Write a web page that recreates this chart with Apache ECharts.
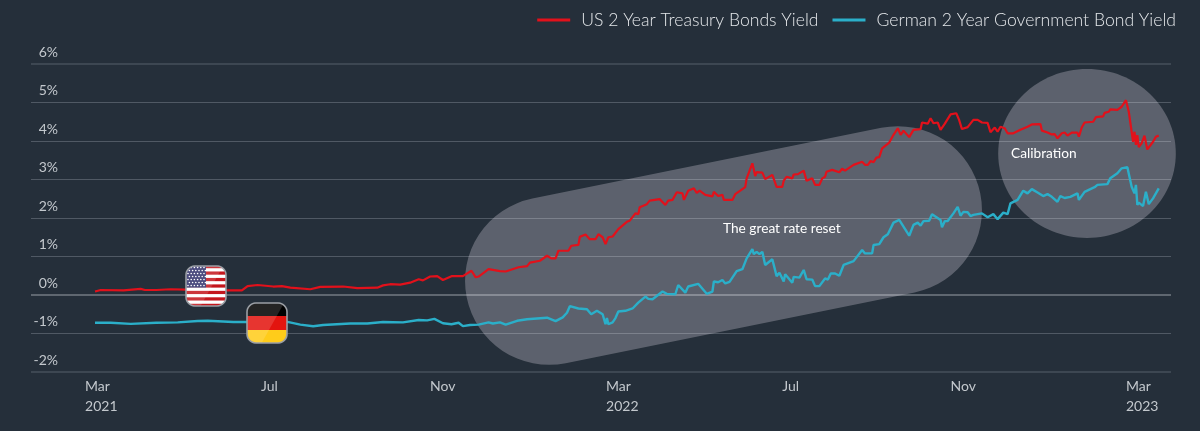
<!DOCTYPE html>
<html>
    <head>
        <meta charset="UTF-8">
        <script src="https://cdn.jsdelivr.net/npm/echarts@6/dist/echarts.min.js"></script>
        <style>
            html, body { margin: 0; padding: 0; background: #252f3a; }
            #main { width: 1200px; height: 431px; }
        </style>
    </head>
    <body>
        <div id="main"></div>
        <script type="text/javascript">
            // days counted from 1 Mar 2021, yields in percent
            const usDays = [0,4,20,32,35,43,53,63,74,84,93,103,107,114,125,131,137,151,158,174,184,198,202,207,214,221,227,230,235,240,244,250,255,258,264,267,269,276,284,288,297,303,305,312,317,320,323,325,332,334,339,340,344,347,351,353,356,358,360,363,367,373,375,379,381,382,387,389,396,400,402,405,408,412,413,416,420,422,424,428,433,434,437,440,441,447,449,456,457,461,463,464,468,470,475,478,482,483,485,489,490,493,497,499,503,505,508,510,512,513,517,522,524,526,532,538,540,542,544,546,548,550,552,557,560,563,565,567,571,574,579,580,584,586,588,591,593,596,600,604,606,608,612,616,619,622,626,628,631,633,635,638,640,644,649,654,657,663,664,668,671,673,675,678,680,682,685,689,690,692,694,700,702,707,708,711,712,717,720,723,725,727,728,729,730,731,732,734,736,738,739,742,744,746];
            const usYield = [0.09,0.13,0.12,0.16,0.13,0.13,0.15,0.14,0.14,0.13,0.12,0.12,0.23,0.26,0.22,0.23,0.19,0.15,0.21,0.22,0.18,0.19,0.25,0.28,0.27,0.32,0.41,0.38,0.48,0.49,0.39,0.49,0.49,0.49,0.63,0.46,0.48,0.67,0.62,0.61,0.72,0.75,0.84,0.89,1.02,0.95,0.95,1.15,1.15,1.28,1.30,1.51,1.57,1.45,1.45,1.58,1.50,1.32,1.50,1.52,1.71,1.90,1.93,2.12,2.10,2.28,2.36,2.45,2.49,2.34,2.45,2.47,2.67,2.64,2.47,2.71,2.77,2.65,2.71,2.60,2.56,2.68,2.57,2.60,2.47,2.47,2.62,2.80,3.03,3.42,3.09,3.19,3.18,3.01,3.12,2.81,2.81,2.97,3.07,3.03,3.13,3.14,3.23,2.97,3.03,2.86,2.86,3.03,3.07,3.20,3.25,3.19,3.28,3.23,3.38,3.46,3.38,3.38,3.48,3.45,3.57,3.58,3.81,3.96,4.16,4.33,4.16,4.27,4.10,4.29,4.31,4.48,4.45,4.59,4.46,4.48,4.29,4.45,4.69,4.72,4.55,4.31,4.36,4.55,4.55,4.48,4.47,4.23,4.35,4.24,4.37,4.33,4.20,4.20,4.29,4.37,4.43,4.44,4.27,4.22,4.17,4.18,4.07,4.20,4.22,4.14,4.22,4.22,4.11,4.35,4.48,4.50,4.62,4.64,4.73,4.76,4.82,4.81,4.89,5.06,4.76,4.24,3.98,4.24,3.90,4.15,3.84,3.94,4.14,3.78,3.75,3.98,4.11,4.14];
            const deDays = [0,11,25,43,58,72,79,97,106,121,135,144,153,160,179,191,202,216,227,233,238,244,250,255,258,263,269,276,279,284,288,296,303,317,323,328,331,333,339,345,348,352,356,358,359,360,363,365,367,372,377,381,386,388,391,398,401,407,409,414,416,423,429,433,434,437,440,442,445,450,454,457,461,462,464,466,468,470,475,478,480,483,484,489,490,494,497,499,503,505,508,512,514,516,519,522,525,532,538,540,545,546,550,553,556,560,564,571,574,577,579,581,585,587,593,594,596,598,602,605,607,609,612,614,616,622,626,630,633,637,640,642,647,651,654,657,661,665,668,671,675,677,680,684,689,690,694,701,703,710,712,717,720,724,727,729,730,731,732,735,737,739,742,746];
            const deYield = [-0.72,-0.72,-0.75,-0.72,-0.71,-0.675,-0.67,-0.70,-0.70,-0.72,-0.70,-0.77,-0.81,-0.78,-0.74,-0.74,-0.70,-0.71,-0.65,-0.66,-0.62,-0.735,-0.76,-0.72,-0.81,-0.78,-0.77,-0.71,-0.74,-0.71,-0.77,-0.67,-0.63,-0.59,-0.68,-0.58,-0.46,-0.29,-0.35,-0.37,-0.50,-0.41,-0.50,-0.76,-0.60,-0.76,-0.71,-0.60,-0.43,-0.41,-0.35,-0.20,-0.04,-0.10,-0.11,0.09,0.03,0.02,0.26,0.06,0.22,0.29,0.03,0.09,0.35,0.33,0.39,0.30,0.34,0.62,0.67,0.95,1.19,1.06,1.12,1.06,1.12,0.78,0.93,0.49,0.58,0.35,0.54,0.32,0.47,0.45,0.65,0.41,0.40,0.23,0.23,0.43,0.40,0.56,0.56,0.50,0.78,0.88,1.17,1.08,1.08,1.30,1.32,1.50,1.58,1.88,1.95,1.54,1.82,1.88,1.80,1.92,1.93,2.10,1.95,1.76,1.92,1.92,2.12,2.29,2.06,2.16,2.15,2.05,2.08,2.12,2.02,2.10,1.97,2.14,2.10,2.38,2.47,2.71,2.64,2.75,2.66,2.57,2.62,2.55,2.42,2.57,2.52,2.55,2.64,2.47,2.68,2.80,2.86,2.88,3.03,3.16,3.29,3.32,2.81,2.64,2.86,2.34,2.40,2.31,2.68,2.36,2.51,2.77];
            const tickDays = [-7, 116.4, 235, 358.4, 482, 600, 723];
            const tickLabels = ['Mar\n2021', 'Jul', 'Nov', 'Mar\n2022', 'Jul', 'Nov', 'Mar\n2023'];

            const FONT = 'Lato';

            // 光泽圆角旗帜
            function makeFlag(draw) {
                const size = 42, canvas = document.createElement('canvas');
                canvas.width = canvas.height = size * 2;
                const ctx = canvas.getContext('2d');
                ctx.scale(2, 2);
                const round = () => {
                    ctx.beginPath();
                    ctx.roundRect(1, 1, size - 2, size - 2, 9);
                };
                ctx.save();
                round();
                ctx.clip();
                draw(ctx, size);
                ctx.fillStyle = 'rgba(255,255,255,0.14)';
                ctx.beginPath();
                ctx.moveTo(0, 0);
                ctx.lineTo(size * 0.92, 0);
                ctx.lineTo(size * 0.36, size);
                ctx.lineTo(0, size);
                ctx.fill();
                ctx.restore();
                round();
                ctx.strokeStyle = '#9b9fa5';
                ctx.lineWidth = 1.6;
                ctx.stroke();
                return canvas;
            }
            const usFlag = makeFlag((ctx, size) => {
                const h = size / 13;
                ctx.fillStyle = '#ffffff';
                ctx.fillRect(0, 0, size, size);
                ctx.fillStyle = '#c4161c';
                for (let i = 0; i < 13; i += 2) {
                    ctx.fillRect(0, i * h, size, h);
                }
                ctx.fillStyle = '#2f2f6b';
                ctx.fillRect(0, 0, size * 0.5, h * 7);
                ctx.fillStyle = '#ffffff';
                for (let r = 0; r < 7; r++) {
                    for (let c = 0; c < 6; c++) {
                        ctx.beginPath();
                        ctx.arc(3 + c * 3.2 + (r % 2) * 1.4, 2.5 + r * 3, 0.8, 0, Math.PI * 2);
                        ctx.fill();
                    }
                }
            });
            const deFlag = makeFlag((ctx, size) => {
                ctx.fillStyle = '#000000';
                ctx.fillRect(0, 0, size, size / 3);
                ctx.fillStyle = '#e3140f';
                ctx.fillRect(0, size / 3, size, size / 3);
                ctx.fillStyle = '#ffcc1a';
                ctx.fillRect(0, size * 2 / 3, size, size / 3);
            });

            const chart = echarts.init(document.getElementById('main'));
            const bubble = 'rgba(250,245,255,0.26)';
            // 6%, 0% and -2% rules are heavier than the others
            const heavyRule = (value, color) => ({ yAxis: value, lineStyle: { color: color, width: 2, type: 'solid' } });
            chart.setOption({
                backgroundColor: '#252f3a',
                animation: false,
                textStyle: { fontFamily: FONT },
                legend: {
                    right: 19,
                    top: 6,
                    icon: 'rect',
                    itemWidth: 33,
                    itemHeight: 3,
                    itemGap: 14,
                    textStyle: { color: '#e4e7ea', fontSize: 17.6, fontFamily: FONT, fontWeight: 300, padding: [0, 0, 0, 6] }
                },
                grid: { left: 31, right: 29, top: 64, bottom: 59 },
                xAxis: {
                    type: 'value',
                    min: -44.9,
                    max: 754.6,
                    axisLine: { show: false },
                    axisTick: { show: false },
                    splitLine: { show: false },
                    axisLabel: {
                        customValues: tickDays,
                        color: '#c3c8cd',
                        fontSize: 14,
                        lineHeight: 19.5,
                        margin: 5,
                        align: 'left',
                        hideOverlap: false,
                        formatter: value => tickLabels[tickDays.indexOf(value)] || ''
                    }
                },
                yAxis: {
                    type: 'value',
                    min: -2,
                    max: 6,
                    interval: 1,
                    axisLine: { show: false },
                    axisTick: { show: false },
                    splitLine: {
                        lineStyle: { color: '#505964', width: 1 }
                    },
                    axisLabel: {
                        inside: true,
                        align: 'right',
                        verticalAlign: 'bottom',
                        margin: 27,
                        padding: [0, 0, 5, 0],
                        color: '#c3c8cd',
                        fontSize: 14,
                        formatter: '{value}%'
                    }
                },
                series: [
                    {
                        name: 'US 2 Year Treasury Bonds Yield',
                        type: 'line',
                        showSymbol: false,
                        z: 3,
                        itemStyle: { color: '#e2111b' },
                        lineStyle: { color: '#e2111b', width: 2.2 },
                        data: usDays.map((d, i) => [d, usYield[i]]),
                        markLine: {
                            silent: true,
                            symbol: 'none',
                            label: { show: false },
                            z: 0,
                            data: [heavyRule(6, '#3d4752'), heavyRule(0, '#5f6770'), heavyRule(-2, '#3d4752')]
                        }
                    },
                    {
                        name: 'German 2 Year Government Bond Yield',
                        type: 'line',
                        showSymbol: false,
                        z: 3,
                        itemStyle: { color: '#2bafc9' },
                        lineStyle: { color: '#2bafc9', width: 2.4 },
                        data: deDays.map((d, i) => [d, deYield[i]])
                    }
                ],
                graphic: [
                    {
                        type: 'rect',
                        z: 1,
                        x: 723.5,
                        y: 245.5,
                        rotation: 0.2,
                        shape: { x: -262, y: -84, width: 524, height: 168, r: 84 },
                        style: { fill: bubble }
                    },
                    {
                        type: 'ellipse',
                        z: 1,
                        shape: { cx: 1087, cy: 153.5, rx: 88.8, ry: 84.4 },
                        style: { fill: bubble }
                    },
                    {
                        type: 'text',
                        z: 5,
                        x: 723,
                        y: 221.5,
                        style: { text: 'The great rate reset', fill: '#ffffff', fontSize: 13.7, fontFamily: FONT }
                    },
                    {
                        type: 'text',
                        z: 5,
                        x: 1011,
                        y: 146.5,
                        style: { text: 'Calibration', fill: '#ffffff', fontSize: 13.7, fontFamily: FONT }
                    },
                    { type: 'image', z: 6, x: 185, y: 265, style: { image: usFlag, width: 42, height: 42 } },
                    { type: 'image', z: 6, x: 246, y: 302, style: { image: deFlag, width: 42, height: 42 } }
                ]
            });
        </script>
    </body>
</html>
